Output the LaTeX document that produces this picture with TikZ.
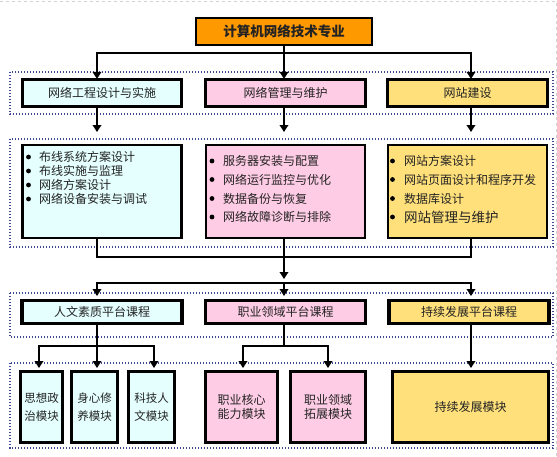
\documentclass[tikz,border=0pt]{standalone}
\usepackage{fontspec}
\setmainfont{Noto Sans CJK SC}
\usetikzlibrary{arrows.meta,calc}
\definecolor{cyanbox}{RGB}{229,255,255}
\definecolor{pinkbox}{RGB}{255,204,229}
\definecolor{yellowbox}{RGB}{255,224,122}
\definecolor{orangebox}{RGB}{255,153,0}
\definecolor{framedot}{RGB}{60,72,150}
\definecolor{txt}{RGB}{35,35,35}
\begin{document}
\begin{tikzpicture}[x=1pt,y=-1pt,
  box/.style={draw=black, line width=2.2pt, inner sep=0pt, text=txt, align=center,
    font=\fontsize{12}{14}\selectfont},
  frame/.style={draw=framedot, line width=1.6pt, dash pattern=on 1.4pt off 1.6pt},
  conn/.style={draw=black, line width=2.4pt},
  arr/.style={conn, -{Triangle[width=8.5pt,length=7pt]}},
  lbl/.style={anchor=west, inner sep=0pt, text=txt, font=\fontsize{12}{14}\selectfont},
  bul/.style={fill=black}
]
\useasboundingbox (0,0) rectangle (557,456);
\fill[white] (0,0) rectangle (557,456);
\draw[gray!35, dashed, line width=0.5pt] (0,1) -- (556,1) -- (556,456);

% coordinates
\coordinate (xL) at (97,0);
\coordinate (xM) at (284,0);
\coordinate (xR) at (471,0);
\coordinate (b1) at (0,53);
\coordinate (t1) at (0,132);
\coordinate (j1) at (0,257);
\coordinate (t2) at (0,279);
\coordinate (j2) at (0,283);
\coordinate (t3) at (0,296);
\coordinate (j3) at (0,346);
\coordinate (t4) at (0,368);
\coordinate (xLa) at (39,0);
\coordinate (xLc) at (154,0);
\coordinate (xMa) at (243,0);
\coordinate (xMb) at (328,0);

% dotted frames
\draw[frame] (10,72) rectangle (553,114);
\draw[frame] (10,139) rectangle (553,247);
\draw[frame] (10,293) rectangle (553,337);
\draw[frame] (10,363) rectangle (553,448);

% boxes
\node[box, fill=orangebox, minimum width=176pt, minimum height=27pt,
  font=\bfseries\fontsize{13.5}{15}\selectfont] (top) at (284,31.5) {计算机网络技术专业};

\node[box, fill=cyanbox, minimum width=158pt, minimum height=26pt] (r1a) at (102,93) {网络工程设计与实施};
\node[box, fill=pinkbox, minimum width=159pt, minimum height=26pt] (r1b) at (285.5,93) {网络管理与维护};
\node[box, fill=yellowbox, minimum width=159pt, minimum height=26pt] (r1c) at (467.5,93) {网站建设};

\node[box, fill=cyanbox, minimum width=159pt, minimum height=93pt] (r2a) at (102,191.5) {};
\node[box, fill=pinkbox, minimum width=159pt, minimum height=93pt] (r2b) at (285.5,191.5) {};
\node[box, fill=yellowbox, minimum width=159pt, minimum height=93pt] (r2c) at (467.5,191.5) {};

\node[box, fill=cyanbox, minimum width=159pt, minimum height=22pt] (r3a) at (102,312) {人文素质平台课程};
\node[box, fill=pinkbox, minimum width=159pt, minimum height=22pt] (r3b) at (285.5,312) {职业领域平台课程};
\node[box, fill=yellowbox, minimum width=159pt, minimum height=22pt] (r3c) at (469,312) {持续发展平台课程};

\node[box, fill=cyanbox, minimum width=41pt, minimum height=70pt,
  font=\fontsize{11.5}{18}\selectfont] (r4a) at (41.5,407) {思想政\\治模块};
\node[box, fill=cyanbox, minimum width=45pt, minimum height=70pt,
  font=\fontsize{11.5}{18}\selectfont] (r4b) at (94.5,407) {身心修\\养模块};
\node[box, fill=cyanbox, minimum width=45pt, minimum height=70pt,
  font=\fontsize{11.5}{18}\selectfont] (r4c) at (151.5,407) {科技人\\文模块};
\node[box, fill=pinkbox, minimum width=71pt, minimum height=70pt] (r4d) at (241.5,407) {职业核心\\能力模块};
\node[box, fill=pinkbox, minimum width=74pt, minimum height=70pt] (r4e) at (328,407) {职业领域\\拓展模块};
\node[box, fill=yellowbox, minimum width=155pt, minimum height=70pt] (r4f) at (470.5,407) {持续发展模块};

% connectors: top -> row 1
\draw[arr] (top.south) -- (xM|-r1b.north);
\draw[arr] (xM|-b1) -| (xL|-r1a.north);
\draw[arr] (xM|-b1) -| (xR|-r1c.north);

% row 1 -> row 2
\draw[arr] (xL|-r1a.south) -- (xL|-t1);
\draw[arr] (xM|-r1b.south) -- (xM|-t1);
\draw[arr] (xR|-r1c.south) -- (xR|-t1);

% row 2 -> row 3
\draw[conn] (xL|-r2a.south) |- (xR|-j1) -- (xR|-r2c.south);
\draw[arr] (xM|-r2b.south) -- (xM|-t2);
\draw[arr] (xM|-j2) -| (xL|-t3);
\draw[arr] (xM|-j2) -| (xR|-t3);
\draw[arr] (xM|-j2) -- (xM|-t3);

% row 3 -> row 4
\draw[arr] (xL|-r3a.south) -- (xL|-t4);
\draw[arr] (xL|-j3) -| (xLa|-t4);
\draw[arr] (xL|-j3) -| (xLc|-t4);
\draw[conn] (xM|-r3b.south) -- (xM|-j3);
\draw[arr] (xM|-j3) -| (xMa|-t4);
\draw[arr] (xM|-j3) -| (xMb|-t4);
\draw[arr] (xR|-r3c.south) -- (xR|-t4);

% redraw boxes borders above arrow tips
\foreach \n in {r1a,r1b,r1c,r3a,r3b,r3c,r4a,r4b,r4c,r4d,r4e,r4f}
  \draw[line width=2.2pt] (\n.north west) rectangle (\n.south east);

% row 2 bullet lists
\foreach \y/\t [count=\i] in {157/布线系统方案设计,171/布线实施与监理,185/网络方案设计,199/网络设备安装与调试}{
  \fill[bul] (28.5,\y) circle (2.4pt);
  \node[lbl] (la\i) at (39,\y) {\t};
}
\foreach \y/\t [count=\i] in {161/服务器安装与配置,179.5/网络运行监控与优化,198.5/数据备份与恢复,217/网络故障诊断与排除}{
  \fill[bul] (212,\y) circle (2.4pt);
  \node[lbl] (lb\i) at (223,\y) {\t};
}
\foreach \y/\t [count=\i] in {161/网站方案设计,179.5/网站页面设计和程序开发,198.5/数据库设计}{
  \fill[bul] (392.5,\y) circle (2.4pt);
  \node[lbl] (lc\i) at (404,\y) {\t};
}
\fill[bul] (392.5,217) circle (2.4pt);
\node[lbl, font=\fontsize{13.5}{15}\selectfont] (lc4) at (404,217) {网站管理与维护};
\end{tikzpicture}
\end{document}
